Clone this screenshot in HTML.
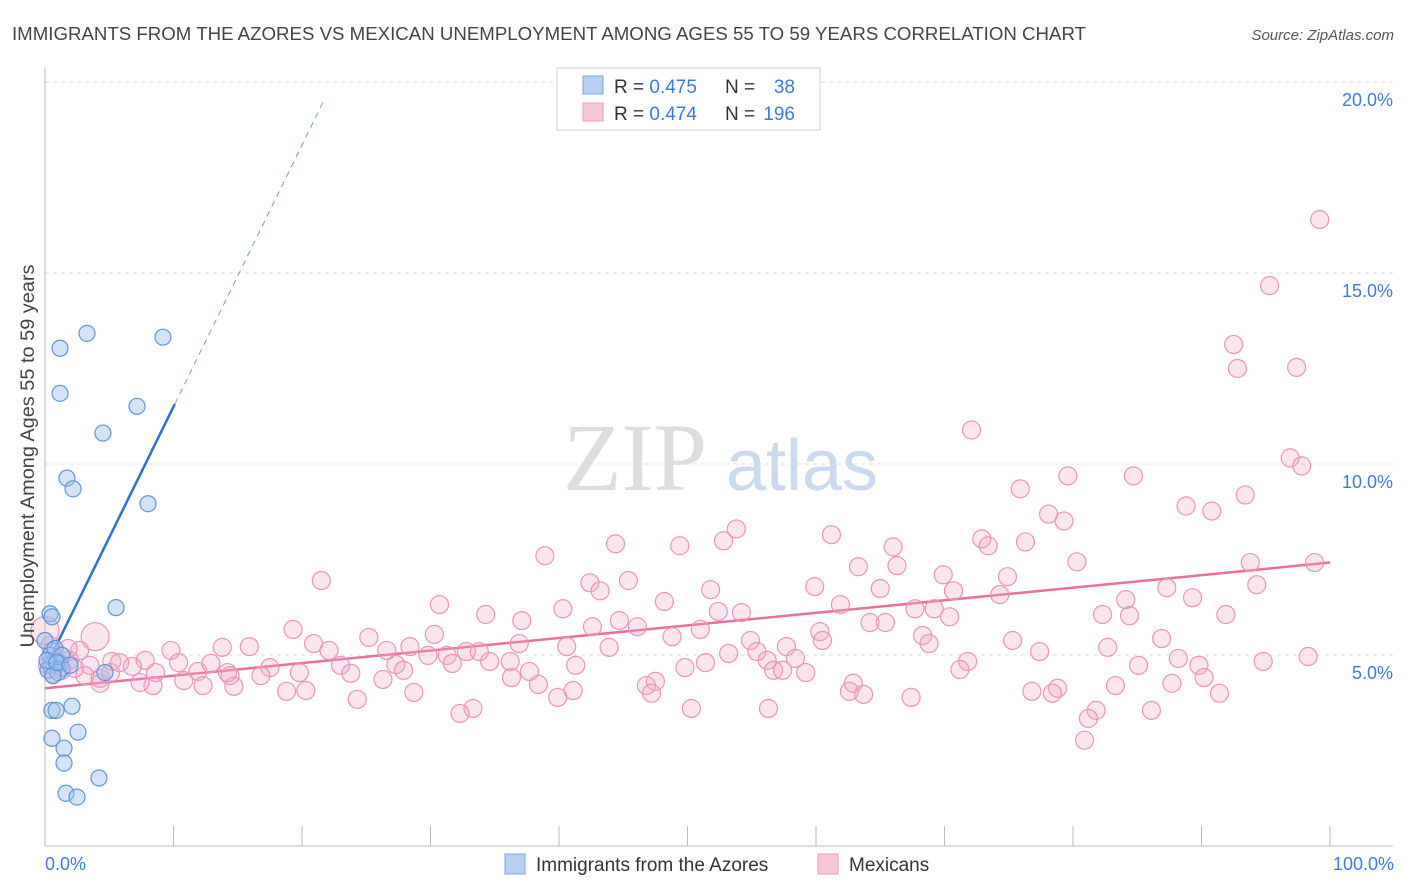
<!DOCTYPE html>
<html><head><meta charset="utf-8"><style>
body{margin:0;background:#fff;font-family:"Liberation Sans",sans-serif}
svg{display:block}
</style></head><body>
<svg id="chart" width="1406" height="892">
<text x="12" y="40" font-size="18" fill="#444" textLength="1074" lengthAdjust="spacingAndGlyphs">IMMIGRANTS FROM THE AZORES VS MEXICAN UNEMPLOYMENT AMONG AGES 55 TO 59 YEARS CORRELATION CHART</text>
<text x="1394" y="40" font-size="15" fill="#555" font-style="italic" text-anchor="end">Source: ZipAtlas.com</text>
<g><text x="635" y="490" font-size="96" font-family="Liberation Serif,serif" fill="#ddd" text-anchor="middle">ZIP</text><text x="802" y="490" font-size="72" fill="#c9d9ee" text-anchor="middle">atlas</text></g>
<g id="grid"></g><g id="axes"></g><g id="trend"></g><g id="pts"></g>
<text transform="translate(34,456) rotate(-90)" font-size="19" fill="#444" text-anchor="middle" textLength="383" lengthAdjust="spacingAndGlyphs">Unemployment Among Ages 55 to 59 years</text>
<text x="45" y="870" font-size="18" fill="#3d7bd8">0.0%</text>
<text x="1394" y="870" font-size="18" fill="#3d7bd8" text-anchor="end">100.0%</text>
<g>
<rect x="557" y="68" width="263" height="62" fill="#fff" stroke="#ccc"/>
<rect x="583" y="76" width="20" height="18" fill="#b6d0f3" stroke="#7aa6df"/>
<rect x="583" y="103" width="20" height="18" fill="#f9c6d6" stroke="#ee9ab6"/>
<text x="614" y="93" font-size="19" fill="#333">R = <tspan fill="#3d7bd8">0.475</tspan></text>
<text x="725" y="93" font-size="19" fill="#333">N =</text>
<text x="795" y="93" font-size="19" fill="#3d7bd8" text-anchor="end">38</text>
<text x="614" y="120" font-size="19" fill="#333">R = <tspan fill="#3d7bd8">0.474</tspan></text>
<text x="725" y="120" font-size="19" fill="#333">N =</text>
<text x="795" y="120" font-size="19" fill="#3d7bd8" text-anchor="end">196</text>
</g>
<g>
<rect x="505" y="854" width="20" height="20" fill="#b6d0f3" stroke="#7aa6df"/>
<text x="536" y="871" font-size="19" fill="#333">Immigrants from the Azores</text>
<rect x="818" y="854" width="20" height="20" fill="#f9c6d6" stroke="#ee9ab6"/>
<text x="849" y="871" font-size="19" fill="#333">Mexicans</text>
</g>
</svg>
<script>
const yTicks=[5,10,15,20];
const yTickLabels=["5.0%","10.0%","15.0%","20.0%"];
const xTicks=[0,10,20,30,40,50,60,70,80,90,100];
const blueX=[1.17,3.27,9.18,1.17,7.16,4.51,1.71,2.18,8.02,5.53,0.39,0.54,0.54,0.78,0.39,0.23,1.17,1.32,4.67,0.54,0.86,2.1,0.54,2.57,1.48,1.48,4.2,1.63,2.49,0,0.39,0.78,1.01,0.16,0.62,1.32,0.93,1.95];
const blueY=[13.03,13.42,13.32,11.85,11.51,10.81,9.63,9.35,8.96,6.24,6.08,6.0,5.12,4.86,4.73,4.6,4.78,4.65,4.54,3.55,3.55,3.66,2.82,2.98,2.56,2.17,1.78,1.38,1.28,5.38,4.99,5.17,4.54,4.86,4.46,4.99,4.8,4.73];
const pinkX=[99.2,95.3,92.5,92.8,97.4,72.1,96.9,97.8,79.6,84.7,75.9,93.4,88.8,90.8,78.1,79.3,53.8,61.2,52.8,72.9,44.4,73.4,76.3,49.4,66,38.9,80.3,93.8,98.8,66.3,63.3,69.9,21.5,74.9,45.4,42.4,94.3,51.8,59.9,65,70.7,87.3,74.3,43.2,89.3,30.7,48.2,61.9,84.1,40.3,52.4,54.2,67.7,69.2,82.3,84.4,91.9,34.3,37.1,44.7,46.1,64.2,65.4,70.4,51,42.6,19.3,30.3,60.3,68.3,86.9,25.2,75.3,68.8,54.9,36.9,60.5,48.8,40.6,43.9,28.4,15.9,13.8,9.8,20.9,82.7,55.4,57.7,77.4,88.2,98.3,94.8,53.2,33.8,32.8,26.6,22.1,31.3,29.8,58.4,56.2,41.3,85.1,89.8,71.8,51.4,49.8,36.2,34.6,31.7,27.3,23,17.5,12.9,10.4,7.8,6.8,5.2,71.2,56.7,57.4,59.2,37.7,27.9,23.8,19.8,16.8,14.2,11.9,8.6,90.2,36.3,26.3,14.4,10.8,87.7,91.4,62.9,47.5,46.8,83.3,38.4,12.3,8.4,7.4,4.3,14.7,41.1,78.8,62.6,76.8,78.4,18.8,20.3,28.7,47.2,63.7,67.4,39.9,24.3,33.3,50.3,56.3,86.1,81.8,81.2,80.9,32.3,0,3.9,0.4,1.2,1.9,2.7,3.5,1.3,2.3,3.1,0.8,1.8,4.3,5.1,5.8,0.2,0.6];
const pinkY=[16.4,14.67,13.13,12.5,12.53,10.89,10.16,9.95,9.69,9.69,9.35,9.19,8.9,8.77,8.69,8.51,8.3,8.15,7.99,8.04,7.91,7.86,7.96,7.86,7.83,7.6,7.44,7.42,7.42,7.34,7.31,7.1,6.95,7.05,6.95,6.89,6.84,6.71,6.79,6.74,6.68,6.76,6.58,6.68,6.5,6.32,6.4,6.32,6.45,6.21,6.14,6.11,6.21,6.21,6.06,6.03,6.06,6.06,5.9,5.9,5.74,5.85,5.85,6.0,5.67,5.74,5.67,5.54,5.61,5.51,5.43,5.46,5.38,5.3,5.38,5.3,5.38,5.48,5.22,5.2,5.22,5.22,5.2,5.12,5.3,5.2,5.09,5.22,5.09,4.91,4.96,4.83,5.04,5.09,5.09,5.12,5.12,4.99,4.99,4.91,4.86,4.73,4.73,4.73,4.83,4.8,4.67,4.83,4.83,4.78,4.75,4.73,4.67,4.78,4.8,4.86,4.7,4.83,4.62,4.6,4.6,4.54,4.57,4.6,4.52,4.54,4.46,4.54,4.57,4.54,4.41,4.41,4.36,4.46,4.33,4.26,4.0,4.26,4.31,4.2,4.2,4.23,4.2,4.2,4.28,4.26,4.18,4.07,4.13,4.05,4.05,4.0,4.05,4.07,4.02,4.0,3.97,3.89,3.89,3.84,3.6,3.6,3.6,3.55,3.55,3.34,2.77,3.47,5.64,5.48,5.25,4.99,4.86,5.12,4.73,4.6,4.65,4.46,4.86,5.17,4.39,4.54,4.8,4.73,4.52];
const pinkTrend=[4.13,0.0329];
const blueTrend=[4.65,0.685];
const NS="http://www.w3.org/2000/svg";
const X0=45,X1=1330,Y0=846,PY=38.2;
const sx=v=>X0+(X1-X0)*v/100, sy=v=>Y0-PY*v;
function mk(t,a,p){const e=document.createElementNS(NS,t);for(const k in a)e.setAttribute(k,a[k]);p.appendChild(e);return e;}
const grid=document.getElementById('grid'),axes=document.getElementById('axes'),trend=document.getElementById('trend'),pts=document.getElementById('pts');
yTicks.forEach((v,i)=>{
 const l=mk('line',{x1:45,x2:1393,y1:sy(v),y2:sy(v),stroke:'#ddd','stroke-dasharray':'4,4'},grid);
 
 
 const t=mk('text',{x:1393,y:sy(v)+24,'font-size':18,fill:'#3d7bd8','text-anchor':'end'},grid);
 t.textContent=yTickLabels[i];
 
 
});
const ya=mk('line',{x1:45,x2:45,y1:68,y2:846,stroke:'#bbb'},axes);


const xa=mk('line',{x1:45,x2:1393,y1:846,y2:846,stroke:'#bbb'},axes);


xTicks.forEach(v=>{
 const t=mk('line',{x1:sx(v),x2:sx(v),y1:826,y2:846,stroke:'#bbb'},axes);
 
 
});
const pl=mk('line',{x1:sx(0),y1:sy(pinkTrend[0]),x2:sx(100),y2:sy(pinkTrend[0]+100*pinkTrend[1]),stroke:'#e8709a','stroke-width':2.5},trend);


const bEnd=10.1,bDash=21.8;
const bl=mk('line',{x1:sx(0),y1:sy(blueTrend[0]),x2:sx(bEnd),y2:sy(blueTrend[0]+bEnd*blueTrend[1]),stroke:'#2f6fd6','stroke-width':2.5},trend);


const bd=mk('line',{x1:sx(bEnd),y1:sy(blueTrend[0]+bEnd*blueTrend[1]),x2:sx(bDash),y2:sy(blueTrend[0]+bDash*blueTrend[1]),stroke:'#6d9be0','stroke-width':1,'stroke-dasharray':'6,5'},trend);


pinkX.forEach((x,i)=>{
 const big=(i===pinkX.length-17)||(i===pinkX.length-16);
 const c=mk('circle',{cx:sx(x),cy:sy(pinkY[i]),r:big?14:9,fill:'rgba(246,170,196,0.3)',stroke:'#ef93b4','stroke-width':1.2},pts);
 
 
});
blueX.forEach((x,i)=>{
 const c=mk('circle',{cx:sx(x),cy:sy(blueY[i]),r:8,fill:'rgba(160,196,240,0.45)',stroke:'#5f95db','stroke-width':1.2},pts);
 
 
});
</script>
</body></html>
